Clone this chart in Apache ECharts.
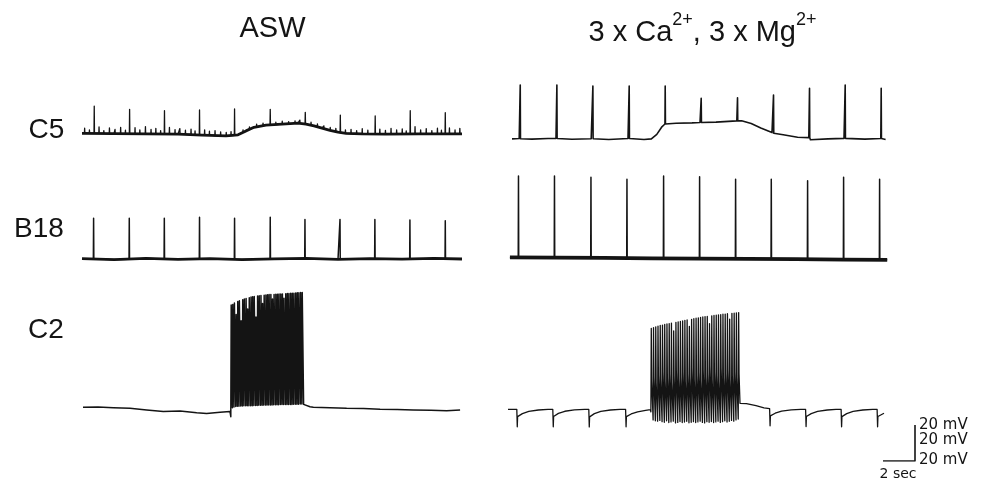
<!DOCTYPE html>
<html><head><meta charset="utf-8">
<script src="https://cdn.jsdelivr.net/npm/echarts@6/dist/echarts.min.js"></script>
<style>html,body{margin:0;padding:0;background:#fff}#c{width:990px;height:487px}</style>
</head><body><div id="c"></div>
<script>
// ---------- DATA (time in s, membrane potential in mV relative to rest) ----------
const panelTitles = ['ASW', '3 x Ca{s|2+}, 3 x Mg{s|2+}'];
const cellLabels = ['C5', 'B18', 'C2'];
const scaleLabels = ['20 mV', '20 mV', '20 mV', '2 sec'];
const scaleBar = [[0, 0], [2, 0], [2, 20]];

// C5, ASW: slow potential, large spikes [time, base, peak] and small synaptic blips [time, base, peak]
const c5AswSlow = [[0,0.6],[2,0.5],[4,0.3],[6,0.2],[7.5,-0.3],[9,-0.8],[9.75,-0.2],[10.25,2.0],[10.75,4.0],
  [11.5,5.2],[12.5,5.8],[13.5,6.3],[14,5.8],[14.5,4.8],[15,3.5],[15.5,2.3],[16,1.3],[16.5,0.6],[17.5,0.3],
  [19,0.2],[21,0.3],[23.75,0.4]];
const c5AswSpikes = [[0.75,0.6,15.8],[2.96,0.5,14.0],[5.14,0.3,13.2],[7.33,-0.2,13.6],[9.52,-0.5,14.2],
  [11.75,5.3,14.0],[13.94,5.9,12.3],[16.13,1.1,10.8],[18.31,0.3,10.3],[20.5,0.2,13.2],[22.69,0.3,12.1]];
const c5AswBlips = [[0.15,0.6,3.5],[0.45,0.6,2.5],[1.05,0.6,4.2],[1.35,0.6,2.2],[1.7,0.5,3.6],[2.05,0.5,2.8],
  [2.4,0.5,4.0],[2.7,0.5,2.4],[3.3,0.5,3.8],[3.6,0.4,2.6],[3.95,0.4,4.4],[4.3,0.4,2.9],[4.6,0.3,3.4],
  [4.9,0.3,2.2],[5.45,0.3,3.9],[5.8,0.2,2.7],[6.1,0.2,3.3],[6.45,0.1,2.4],[6.8,0.0,3.0],[7.05,-0.1,2.0],
  [7.65,-0.3,2.6],[7.95,-0.4,1.8],[8.3,-0.6,2.2],[8.65,-0.7,1.5],[9.0,-0.8,1.2],[9.3,-0.6,1.6],
  [10.05,1.2,2.6],[10.45,2.8,4.2],[10.9,4.2,5.8],[11.3,4.9,6.3],[12.1,5.5,6.8],[12.5,5.8,7.4],[12.9,6.0,7.2],
  [13.3,6.2,7.6],[13.6,6.2,8.0],[14.3,5.2,6.8],[14.7,4.3,5.9],[15.1,3.3,4.8],[15.5,2.3,3.9],[15.85,1.6,3.4],
  [16.45,0.7,2.6],[16.8,0.5,2.9],[17.15,0.4,2.2],[17.5,0.3,3.2],[17.85,0.3,2.4],[18.6,0.3,3.0],[18.95,0.2,2.3],
  [19.3,0.2,3.4],[19.65,0.2,2.5],[20.0,0.2,3.1],[20.25,0.2,2.0],[20.8,0.2,4.3],[21.15,0.3,2.6],[21.5,0.3,3.3],
  [21.85,0.3,2.2],[22.2,0.3,3.5],[22.45,0.3,2.4],[22.95,0.4,3.6],[23.3,0.4,2.5],[23.6,0.4,3.4]];

// C5, 3xCa/3xMg
const c5HiBase = [[0.25,-0.5],[0.7,-0.3],[0.8,-1.2],[1.5,-0.6],[2.5,-0.3],[3.0,-0.2],[3.12,-1.3],[4.0,-0.7],
  [5.2,-0.4],[5.35,-1.4],[6.3,-0.8],[7.5,-0.3],[7.65,-1.3],[8.5,-0.8],[8.96,-0.5],[9.3,2.0],[9.6,6.0],[9.81,7.8],
  [10.5,8.2],[11.5,8.4],[12.0,8.6],[12.15,8.0],[13.0,8.8],[14.3,9.5],[14.6,9.6],[15.2,8.0],[15.8,5.6],
  [16.5,3.0],[16.7,2.2],[17.2,1.8],[18.1,0.4],[18.8,0.2],[18.9,-1.0],[20.0,-0.5],[21.0,-0.2],[21.15,-1.2],
  [22.3,-0.6],[23.3,-0.3],[23.4,-1.3],[23.6,-0.8]];
const c5HiSpikes = [[0.75,-0.4,29.4],[3.04,-0.3,29.4],[5.29,-0.4,28.9],[7.56,-0.3,28.9],[9.81,7.8,28.9],
  [12.06,8.6,22.0],[14.33,9.5,22.4],[16.58,2.6,23.9],[18.83,0.2,27.6],[21.06,-0.2,29.4],[23.31,-0.3,27.6]];

// B18, ASW
const b18AswBase = [[0,0.2],[2,-0.3],[4,0.3],[6,-0.2],[8,0.2],[10,-0.3],[12,0.1],[14,0.3],[16,-0.2],
  [18,0.2],[20,-0.1],[22,0.3],[23.75,0.0]];
const b18AswSpikes = [[0.71,0.0,22.6],[2.94,-0.2,22.6],[5.13,0.0,22.6],[7.33,0.0,23.2],[9.52,-0.1,22.6],[11.75,0.0,23.2],
  [13.92,0.3,22.0],[16.11,-0.2,22.0],[18.29,0.2,22.0],[20.48,-0.1,21.7],[22.69,0.2,21.3]];

// B18, 3xCa/3xMg
const b18HiBase = [[0.12,0.3],[3,0.2],[6,0.1],[9,-0.2],[12,-0.3],[15,-0.5],[18,-0.6],[21,-0.9],[23.7,-1.0]];
const b18HiSpikes = [[0.64,0.3,45.6],[2.89,0.2,45.6],[5.17,0.2,44.8],[7.42,0.1,43.7],[9.71,-0.2,45.6],
  [11.96,-0.3,45.2],[14.21,-0.4,43.7],[16.44,-0.6,43.7],[18.71,-0.6,42.9],[20.96,-0.9,44.8],[23.21,-1.0,43.7]];

// C2, ASW
const c2AswBase = [[0.06,0.4],[1.0,0.6],[1.96,0.2],[3.0,-0.2],[4.04,-1.1],[5.08,-2.0],[6.13,-1.7],[7.17,-2.6],
  [7.79,-3.0],[8.63,-2.4],[9.25,-2.0],[13.85,2.0],[14.25,0.7],[14.46,0.4],[15.5,0.2],[16.54,-0.2],[17.6,-0.3],
  [18.63,-0.7],[19.7,-0.8],[20.71,-1.1],[21.8,-1.3],[22.79,-1.5],[23.63,-1.1]];
const c2AswBurstT = [9.30,9.40,9.50,9.61,9.71,9.81,9.92,10.02,10.12,10.23,10.33,10.43,10.54,10.64,10.74,10.85,
  10.95,11.05,11.16,11.26,11.36,11.47,11.57,11.67,11.78,11.88,11.98,12.09,12.19,12.29,12.40,12.50,12.60,12.71,
  12.81,12.91,13.02,13.12,13.22,13.33,13.43,13.53,13.64,13.74];
const c2AswBurstPeak = [57.2,57.5,58.3,52.0,59.1,59.6,48.5,60.2,60.5,60.9,55.0,61.3,61.6,61.8,62.0,50.5,62.2,
  62.4,62.5,58.0,62.7,62.8,62.9,63.0,63.0,60.5,63.1,63.2,63.2,63.3,63.3,63.4,61.0,63.5,63.6,63.6,63.7,63.8,
  63.8,63.9,64.0,64.0,64.1,64.2];
const c2AswBurstTrough = [-4.8,0.2,0.5,0.8,1.0,1.0,1.1,1.1,1.2,1.2,1.2,1.3,1.3,1.3,1.4,1.4,1.4,1.5,1.5,1.5,
  1.6,1.6,1.6,1.7,1.7,1.7,1.8,1.8,1.8,1.8,1.9,1.9,1.9,1.9,2.0,2.0,2.0,2.0,2.1,2.1,2.1,2.1,2.2,2.2];

// C2, 3xCa/3xMg
const c2HiBase = [[0.0,0.4],[0.55,0.4],[0.58,-9.3],[0.6,-3.7],[0.9,-2.0],[1.3,-0.8],[1.9,0.0],[2.5,0.4],[2.8,0.3],
  [2.83,-9.3],[2.85,-3.6],[3.15,-1.9],[3.55,-0.7],[4.15,0.1],[4.8,0.4],[5.05,0.3],
  [5.08,-9.4],[5.1,-3.8],[5.4,-2.0],[5.8,-0.8],[6.4,0.0],[7.0,0.3],[7.35,0.3],
  [7.38,-9.3],[7.4,-3.7],[7.7,-2.2],[8.1,-1.0],[8.6,-0.2],[8.9,0.2],
  [14.5,3.7],[14.9,3.5],[15.5,2.4],[16.0,1.2],[16.35,0.8],
  [16.38,-8.8],[16.4,-3.3],[16.7,-1.8],[17.1,-0.6],[17.7,0.1],[18.3,0.4],[18.6,0.3],
  [18.63,-9.2],[18.65,-3.6],[18.95,-2.0],[19.35,-0.8],[19.95,0.0],[20.5,0.4],[20.82,0.3],
  [20.85,-9.3],[20.87,-3.7],[21.17,-2.0],[21.57,-0.8],[22.17,0.0],[22.8,0.3],[23.07,0.3],
  [23.1,-9.3],[23.12,-3.6],[23.5,-1.8]];
const c2HiBurstT = [8.93,9.07,9.21,9.35,9.49,9.63,9.77,9.91,10.05,10.19,10.33,10.47,10.61,10.75,10.89,11.03,
  11.17,11.31,11.45,11.59,11.73,11.87,12.01,12.15,12.29,12.43,12.57,12.71,12.85,12.99,13.13,13.27,13.41,13.55,
  13.69,13.83,13.97,14.11,14.25,14.39];
const c2HiBurstPeak = [45.4,45.8,46.2,46.6,47.0,47.2,47.5,47.8,48.0,48.3,44.0,48.7,49.0,49.2,49.5,49.8,50.0,
  46.5,50.4,50.7,51.0,51.2,51.4,51.7,51.9,52.0,48.0,52.3,52.5,52.7,52.9,53.0,53.2,53.3,53.5,50.5,53.7,53.8,54.0,54.1];
const c2HiBurstShoulder = [16,18,15,19,17,21,16,18,20,15,19,22,17,18,21,16,20,18,23,17,19,21,16,22,18,20,24,17,
  21,19,16,23,18,20,22,17,19,21,18,20];
const c2HiBurstTrough = [-1.0,-5.5,-6.0,-6.2,-5.8,-6.5,-6.8,-6.0,-7.0,-6.6,-6.2,-7.2,-6.9,-6.4,-7.0,-6.7,-6.3,
  -7.1,-6.8,-6.5,-7.0,-6.6,-6.2,-6.9,-7.2,-6.5,-6.8,-6.4,-7.0,-6.6,-6.2,-6.9,-6.5,-6.0,-6.7,-6.3,-5.8,-6.2,-5.5,-5.0];

// ---------- BUILD ----------
const SPW = 0.015;   // drawn half-width of a spike (s)
const RISE = 0.025;  // burst spike rise time (s)
function build(base, spikes, burstT, burstPeak, burstTrough, burstShoulder) {
  const pts = base.map(p => [p[0], p[1]]);
  (spikes || []).forEach(s => { pts.push([s[0], s[1]], [s[0] + SPW, s[2]], [s[0] + 2 * SPW, s[1]]); });
  (burstT || []).forEach((t, i) => {
    pts.push([t, burstTrough[i]], [t + RISE, burstPeak[i]]);
    if (burstShoulder) pts.push([t + 2 * RISE, burstShoulder[i]]);
  });
  pts.sort((a, b) => a[0] - b[0]);
  return pts;
}

const L = 82, R = 508, W = 384; // 16 px per s, 1.8 px per mV
const grids = [
  { left: L, top: 62.5, width: W, height: 90 },   // 0 C5 ASW   (-10..40)
  { left: R, top: 66, width: W, height: 90 },     // 1 C5 hi    (-10..40)
  { left: L, top: 187, width: W, height: 90 },    // 2 B18 ASW  (-10..40)
  { left: R, top: 168, width: W, height: 108 },   // 3 B18 hi   (-10..50)
  { left: L, top: 282, width: W, height: 144 },   // 4 C2 ASW   (-10..70)
  { left: R, top: 302, width: W, height: 129.6 }, // 5 C2 hi    (-12..60)
  { left: 883, top: 425, width: 32, height: 36 }  // 6 scale bar
];
const yr = [[-10,40],[-10,40],[-10,40],[-10,50],[-10,70],[-12,60],[0,20]];
const xr = [[0,24],[0,24],[0,24],[0,24],[0,24],[0,24],[0,2]];

const INK = '#141414';
function line(gi, data, width, z) {
  return { type: 'line', xAxisIndex: gi, yAxisIndex: gi, data: data, showSymbol: false, symbol: 'none',
    silent: true, animation: false, z: z || 2, lineStyle: { color: INK, width: width, join: 'round' } };
}

const series = [
  line(0, c5AswSlow, 2.8, 1),
  line(0, build(c5AswSlow, c5AswSpikes.concat(c5AswBlips)), 1.3),
  line(1, build(c5HiBase, c5HiSpikes), 1.6),
  line(2, b18AswBase, 2.8, 1),
  line(2, build(b18AswBase, b18AswSpikes), 1.5),
  line(3, b18HiBase, 3.8, 1),
  line(3, build(b18HiBase, b18HiSpikes), 1.5),
  line(4, build(c2AswBase, null, c2AswBurstT, c2AswBurstPeak, c2AswBurstTrough), 1.5),
  line(5, build(c2HiBase, null, c2HiBurstT, c2HiBurstPeak, c2HiBurstTrough, c2HiBurstShoulder), 1.3),
  line(6, scaleBar, 1.6)
];

const FF = '"Liberation Sans", Arial, sans-serif';
const FS = '"DejaVu Sans", "Liberation Sans", sans-serif';
function txt(x, y, s, size, align, fam) {
  return { type: 'text', x: x, y: y, silent: true,
    style: { text: s, fontSize: size, fontFamily: fam || FF, fill: INK, align: align || 'center', verticalAlign: 'middle' } };
}
const graphic = [
  txt(272.5, 29, panelTitles[0], 29),
  { type: 'text', x: 702.5, y: 29, silent: true,
    style: { text: '{m|' + panelTitles[1].replace(/\{s\|2\+\}/g, '}{s|2+}{m|') + '}',
      fill: INK, align: 'center', verticalAlign: 'middle', fontFamily: FF,
      rich: { m: { fontSize: 29, lineHeight: 36, verticalAlign: 'bottom', fontFamily: FF, fill: INK },
              s: { fontSize: 18, lineHeight: 19, verticalAlign: 'top', fontFamily: FF, fill: INK } } } },
  txt(46.5, 130, cellLabels[0], 28),
  txt(39, 229, cellLabels[1], 28),
  txt(46, 330, cellLabels[2], 28),
  txt(919, 425, scaleLabels[0], 15, 'left', FS),
  txt(919, 440, scaleLabels[1], 15, 'left', FS),
  txt(919, 460, scaleLabels[2], 15, 'left', FS),
  txt(898, 474, scaleLabels[3], 14, 'center', FS)
];

const chart = echarts.init(document.getElementById('c'), null, { renderer: 'canvas' });
chart.setOption({
  animation: false,
  backgroundColor: '#ffffff',
  grid: grids.map(g => Object.assign({ outerBoundsMode: 'none', containLabel: false, show: false }, g)),
  xAxis: grids.map((g, i) => ({ type: 'value', gridIndex: i, min: xr[i][0], max: xr[i][1], show: false })),
  yAxis: grids.map((g, i) => ({ type: 'value', gridIndex: i, min: yr[i][0], max: yr[i][1], show: false })),
  series: series,
  graphic: graphic
});
</script></body></html>
